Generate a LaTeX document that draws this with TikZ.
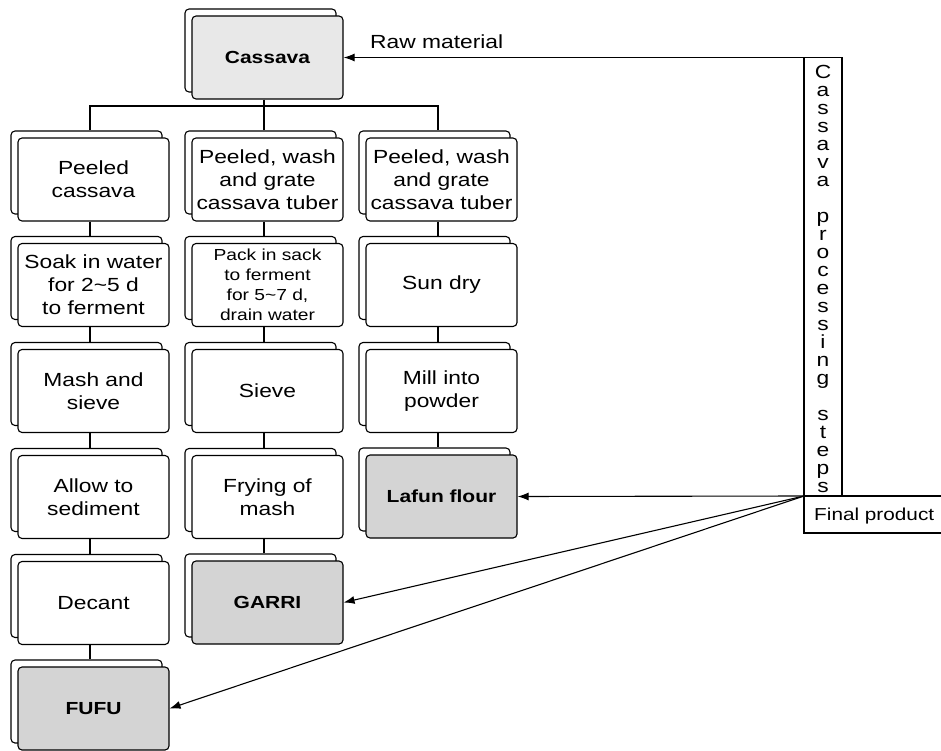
\documentclass[tikz,border=0pt]{standalone}
\usepackage{fontspec}
\setmainfont{Liberation Sans}[FakeStretch=1.2]
\usetikzlibrary{shadows,arrows.meta}
\definecolor{lightg}{HTML}{E8E8E8}
\definecolor{prodg}{HTML}{D4D4D4}
\begin{document}
\begin{tikzpicture}[x=1pt,y=-1pt,
  stackbox/.style={draw=black, line width=1.1pt, rounded corners=4pt, fill=white,
    minimum width=151pt, minimum height=83pt, inner sep=0pt, align=center,
    font=\fontsize{19}{23}\selectfont,
    copy shadow={shadow xshift=-7pt, shadow yshift=7pt, fill=white, draw=black, line width=1.1pt}},
  rawbox/.style={stackbox, fill=lightg, font=\fontsize{17.5}{21}\selectfont\bfseries},
  prodbox/.style={stackbox, fill=prodg, font=\fontsize{17.5}{21}\selectfont\bfseries},
  smalltext/.style={font=\fontsize{16}{20}\selectfont},
  conn/.style={draw=black, line width=1.1pt},
  arr/.style={draw=black, line width=1.1pt, -{Latex[length=11pt,width=8pt]}},
  lbl/.style={inner sep=0pt, font=\fontsize{19}{21}\selectfont},
  vlet/.style={inner sep=0pt, anchor=base, font=\fontsize{19}{18}\selectfont}]
\useasboundingbox (0,0) rectangle (941,751);

% raw material
\node[rawbox] (cas) at (267.5,57.5) {Cassava};

% column 1
\node[stackbox] (a1) at (93.5,179.5) {Peeled\\cassava};
\node[stackbox] (a2) at (93.5,285) {Soak in water\\for 2\textasciitilde 5 d\\to ferment};
\node[stackbox] (a3) at (93.5,391) {Mash and\\sieve};
\node[stackbox] (a4) at (93.5,497) {Allow to\\sediment};
\node[stackbox] (a5) at (93.5,603) {Decant};
\node[prodbox] (a6) at (93.5,708.5) {FUFU};

% column 2
\node[stackbox] (b1) at (267.5,179.5) {Peeled, wash\\and grate\\cassava tuber};
\node[stackbox,smalltext] (b2) at (267.5,285) {Pack in sack\\to ferment\\for 5\textasciitilde 7 d,\\drain water};
\node[stackbox] (b3) at (267.5,391) {Sieve};
\node[stackbox] (b4) at (267.5,497) {Frying of\\mash};
\node[prodbox] (b5) at (267.5,602.5) {GARRI};

% column 3
\node[stackbox] (c1) at (441.5,179.5) {Peeled, wash\\and grate\\cassava tuber};
\node[stackbox] (c2) at (441.5,285) {Sun dry};
\node[stackbox] (c3) at (441.5,391) {Mill into\\powder};
\node[prodbox] (c4) at (441.5,496.5) {Lafun flour};

% bus from Cassava
\coordinate (bus) at (0,113);
\draw[conn] ([xshift=-3.5pt]cas.south) -- ([xshift=-3.5pt]cas.south |- bus);
\draw[conn] ([xshift=-3.5pt,yshift=7pt]a1.north) |- ([xshift=-3.5pt,yshift=7pt]c1.north |- bus)
  -- ([xshift=-3.5pt,yshift=7pt]c1.north);
\draw[conn] ([xshift=-3.5pt,yshift=7pt]b1.north) -- ([xshift=-3.5pt,yshift=7pt]b1.north |- bus);

% vertical links
\foreach \p/\n in {a1/a2,a2/a3,a3/a4,a4/a5,a5/a6,b1/b2,b2/b3,b3/b4,b4/b5,c1/c2,c2/c3,c3/c4}
  \draw[conn] ([xshift=-3.5pt]\p.south) -- ([xshift=-3.5pt,yshift=7pt]\n.north);

% right-hand legend table
\coordinate (tl) at (804,57.5);
\coordinate (fp) at (804,496);
\coordinate (tr) at (842,57.5);
\coordinate (fpr) at (941,496);
\coordinate (fbl) at (804,533);
\coordinate (fbr) at (941,533);
\draw[conn] (tl) -- (tr) -- (tr |- fp) -- (fp) -- cycle;
\draw[conn] (fp) -- (fpr);
\draw[conn] (fp) -- (fbl) -- (fbr);

\foreach \ch/\i in {C/0,a/1,s/2,s/3,a/4,v/5,a/6,p/8,r/9,o/10,c/11,e/12,s/13,s/14,i/15,n/16,g/17,s/19,t/20,e/21,p/22,s/23}
  \node[vlet] (v\i) at (823,{78.5+18*\i}) {\ch};

\node[lbl, anchor=base west] (raw) at (370,49) {Raw material};
\node[lbl, anchor=base west, font=\fontsize{17.3}{20}\selectfont] (fin) at (814,520) {Final product};

% arrows
\draw[arr] (tl) -- (cas.east);
\draw[arr] (fp) -- (c4.east);
\draw[arr] (fp) -- (b5.east);
\draw[arr] (fp) -- (a6.east);
\end{tikzpicture}
\end{document}
